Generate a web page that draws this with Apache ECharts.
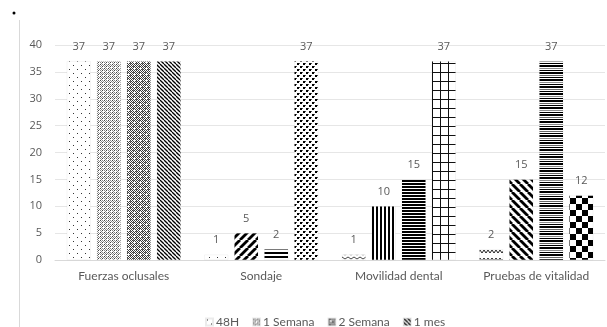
<!DOCTYPE html>
<html>
<head>
<meta charset="utf-8">
<script src="https://cdn.jsdelivr.net/npm/echarts@6/dist/echarts.min.js"></script>
<style>
  html, body { margin: 0; padding: 0; background: #fff; }
  #chart { width: 607px; height: 327px; }
</style>
</head>
<body>
<div id="chart"></div>
<script>
// Evaluation results per test and follow-up time
const categories = ['Fuerzas oclusales', 'Sondaje', 'Movilidad dental', 'Pruebas de vitalidad'];
const seriesNames = ['48H', '1 Semana', '2 Semana', '1 mes'];
const values48H = [37, 1, 1, 2];
const values1Semana = [37, 5, 10, 15];
const values2Semana = [37, 2, 15, 37];
const values1Mes = [37, 37, 37, 12];
const yTicks = { min: 0, max: 40, interval: 5 };

// Fill pattern used for each bar (row = series, column = category)
const fillKinds = [
  ['dots', 'dots', 'smallWave', 'zigzag'],
  ['fineGrey', 'wideUp', 'vertical', 'wideDown'],
  ['darkGrey', 'horizWide', 'horizDense', 'horizVaried'],
  ['narrowDown', 'confetti', 'grid', 'checker']
];

function tile(w, h, draw) {
  const c = document.createElement('canvas');
  c.width = w; c.height = h;
  const g = c.getContext('2d');
  g.fillStyle = '#fff';
  g.fillRect(0, 0, w, h);
  g.fillStyle = '#000';
  g.strokeStyle = '#000';
  draw(g, w, h);
  return c;
}

const painters = {
  dots: () => tile(8, 8, g => { g.fillStyle = '#333'; g.fillRect(1, 1, 1, 1); g.fillRect(5, 5, 1, 1); }),
  fineGrey: () => tile(4, 4, g => {
    g.fillStyle = '#8a8a8a';
    [[0,0],[2,0],[1,1],[3,1],[0,2],[2,2],[1,3]].forEach(p => g.fillRect(p[0], p[1], 1, 1));
    g.fillStyle = '#444'; g.fillRect(0, 0, 1, 1); g.fillRect(2, 2, 1, 1);
  }),
  darkGrey: () => tile(6, 6, g => {
    g.fillStyle = '#3a3a3a';
    for (let y = 0; y < 6; y++) for (let x = 0; x < 6; x++) if ((x + y) % 2 === 0) g.fillRect(x, y, 1, 1);
    g.fillStyle = '#777'; g.fillRect(1, 0, 1, 1); g.fillRect(4, 3, 1, 1);
    g.fillStyle = '#fff'; g.fillRect(2, 2, 2, 1);
  }),
  narrowDown: () => tile(4, 4, g => {
    g.lineWidth = 1.3;
    for (let k = -4; k <= 8; k += 4) { g.beginPath(); g.moveTo(k, 0); g.lineTo(k + 4, 4); g.stroke(); }
  }),
  wideUp: () => tile(8, 8, g => {
    g.lineWidth = 2.8;
    for (let k = -8; k <= 16; k += 8) { g.beginPath(); g.moveTo(k, 8); g.lineTo(k + 8, 0); g.stroke(); }
  }),
  wideDown: () => tile(8, 8, g => {
    g.lineWidth = 2.8;
    for (let k = -8; k <= 16; k += 8) { g.beginPath(); g.moveTo(k, 0); g.lineTo(k + 8, 8); g.stroke(); }
  }),
  horizWide: () => tile(4, 4, g => { g.fillRect(0, 0, 4, 2); }),
  horizDense: () => tile(4, 3, g => { g.fillRect(0, 0, 4, 2); }),
  horizVaried: () => tile(2, 14, g => {
    g.fillRect(0, 0, 2, 1); g.fillRect(0, 2, 2, 2);
    g.fillStyle = '#666'; g.fillRect(0, 5, 2, 1);
    g.fillStyle = '#000'; g.fillRect(0, 7, 2, 1); g.fillRect(0, 9, 2, 2);
    g.fillStyle = '#888'; g.fillRect(0, 12, 2, 1);
  }),
  vertical: () => tile(4, 4, g => { g.fillRect(0, 0, 2, 4); }),
  confetti: () => tile(6, 6, g => {
    g.fillRect(0, 0, 2, 2); g.fillRect(3, 3, 2, 2);
    g.fillStyle = '#555'; g.fillRect(2, 0, 1, 1); g.fillRect(5, 3, 1, 1);
  }),
  grid: () => tile(8, 9, g => { g.fillStyle = '#111'; g.fillRect(0, 0, 1, 9); g.fillRect(0, 0, 8, 1); }),
  checker: () => tile(12, 12, g => { g.fillRect(0, 0, 6, 6); g.fillRect(6, 6, 6, 6); }),
  smallWave: () => tile(6, 4, g => {
    g.lineWidth = 0.9; g.strokeStyle = '#333';
    g.beginPath(); g.moveTo(0, 1); g.lineTo(3, 3); g.lineTo(6, 1); g.stroke();
  }),
  zigzag: () => tile(8, 8, g => {
    g.lineWidth = 1; g.strokeStyle = '#222';
    g.beginPath(); g.moveTo(0, 2); g.lineTo(2, 5); g.lineTo(4, 2); g.lineTo(6, 5); g.lineTo(8, 2); g.stroke();
  })
};

const patternCache = {};
function fill(kind) {
  if (!patternCache[kind]) patternCache[kind] = { image: painters[kind](), repeat: 'repeat' };
  return patternCache[kind];
}

const allValues = [values48H, values1Semana, values2Semana, values1Mes];
const labelColor = '#595959';
const font = 'Lato, "Open Sans", sans-serif';
const numFont = '"Open Sans", Lato, sans-serif';

const series = seriesNames.map((name, si) => ({
  name: name,
  type: 'bar',
  barWidth: 24,
  barGap: '25%',
  itemStyle: { color: fill(fillKinds[si][0]), borderColor: 'rgba(0,0,0,0.08)', borderWidth: 0.5 },
  label: {
    show: true, position: 'top', distance: 9,
    color: labelColor, fontSize: 11, fontFamily: numFont
  },
  data: allValues[si].map((v, ci) => ({
    value: v,
    itemStyle: { color: fill(fillKinds[si][ci]) }
  }))
}));

const chart = echarts.init(document.getElementById('chart'), null, { renderer: 'canvas' });
chart.setOption({
  animation: false,
  backgroundColor: '#fff',
  textStyle: { fontFamily: font },
  grid: { left: 55, right: 2, top: 45, bottom: 67 },
  legend: {
    data: seriesNames,
    left: 200, top: 311,
    itemWidth: 7, itemHeight: 7, itemGap: 13,
    icon: 'rect',
    textStyle: { color: labelColor, fontSize: 12, fontFamily: font, padding: [0, 0, 0, -2] }
  },
  xAxis: {
    type: 'category',
    data: categories,
    axisLine: { show: true, lineStyle: { color: '#d9d9d9' } },
    axisTick: { show: false },
    axisLabel: { color: labelColor, fontSize: 12, fontFamily: font, margin: 10, interval: 0 }
  },
  yAxis: {
    type: 'value',
    min: yTicks.min, max: yTicks.max, interval: yTicks.interval,
    axisLine: { show: false },
    axisTick: { show: false },
    splitLine: { lineStyle: { color: '#e6e6e6' } },
    axisLabel: { color: labelColor, fontSize: 11, fontFamily: numFont, margin: 13 }
  },
  graphic: [
    { type: 'line', shape: { x1: 19.5, y1: 20, x2: 19.5, y2: 327 }, style: { stroke: '#d9d9d9', lineWidth: 1 } },
    { type: 'circle', shape: { cx: 14, cy: 13, r: 1.5 }, style: { fill: '#000' } }
  ],
  series: series
});
</script>
</body>
</html>
